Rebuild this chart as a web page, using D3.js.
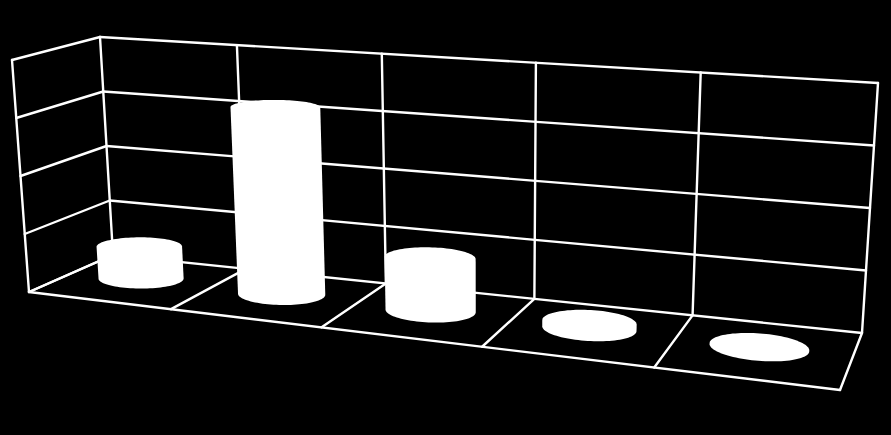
<!DOCTYPE HTML>
<html>
<head>
    <title>3D cylinder chart</title>
    <script src="https://d3js.org/d3.v7.min.js"></script>
    <style>
        html, body { margin: 0; padding: 0; background: #000; }
        svg { display: block; }
    </style>
</head>
<body>
<svg id="chart"></svg>
<script>
    const categories = ["1", "2", "3", "4", "5"];
    const values = [14, 80, 22, 2.5, 0.3];
    const yTicks = [0, 25, 50, 75, 100];

    const WIDTH = 891;
    const HEIGHT = 435;

    // corners of the 3D box on screen: [front left, front right, back right, back left]
    const FLOOR = [[29, 292], [840, 390], [862, 333], [113, 255]];
    const ROOF = [[12, 60], [858, 119], [878, 83], [100, 37]];
    // pure perspective is a bit too strong here, so ease it towards a flat quad
    const FLATTEN = 0.35;

    // unit square -> quad, u runs left to right, v runs front to back
    function homography(q) {
        const [[x0, y0], [x1, y1], [x2, y2], [x3, y3]] = q;
        const dx1 = x1 - x2, dx2 = x3 - x2, sx = x0 - x1 + x2 - x3;
        const dy1 = y1 - y2, dy2 = y3 - y2, sy = y0 - y1 + y2 - y3;
        const det = dx1 * dy2 - dx2 * dy1;
        const g = (sx * dy2 - dx2 * sy) / det;
        const h = (dx1 * sy - sx * dy1) / det;
        const a = x1 - x0 + g * x1, b = x3 - x0 + h * x3;
        const d = y1 - y0 + g * y1, e = y3 - y0 + h * y3;
        return (u, v) => {
            const w = g * u + h * v + 1;
            const flat = i => q[0][i] * (1 - u) * (1 - v) + q[1][i] * u * (1 - v) + q[2][i] * u * v + q[3][i] * (1 - u) * v;
            const px = (a * u + b * v + x0) / w;
            const py = (d * u + e * v + y0) / w;
            return [px + (flat(0) - px) * FLATTEN, py + (flat(1) - py) * FLATTEN];
        };
    }

    const floorAt = homography(FLOOR);
    const roofAt = homography(ROOF);

    const xScale = d3.scaleBand().domain(categories).range([0, 1]);
    const yScale = d3.scaleLinear().domain([0, 100]).range([0, 1]);

    function project(u, v, h) {
        const a = floorAt(u, v);
        const b = roofAt(u, v);
        return [a[0] + (b[0] - a[0]) * h, a[1] + (b[1] - a[1]) * h];
    }

    const svg = d3.select("#chart")
        .attr("width", WIDTH)
        .attr("height", HEIGHT)
        .style("background", "#000");

    const line = d3.line();

    function drawLine(from, to) {
        grid.append("path")
            .attr("d", line([from, to]))
            .attr("fill", "none")
            .attr("stroke", "#fff")
            .attr("stroke-width", 2.4)
            .attr("stroke-linecap", "round");
    }

    const grid = svg.append("g");

    // gridlines on the left and back walls
    yTicks.forEach(t => {
        const h = yScale(t);
        drawLine(project(0, 0, h), project(0, 1, h));
        drawLine(project(0, 1, h), project(1, 1, h));
    });

    // category dividers on the floor and back wall
    const edges = categories.map(c => xScale(c)).concat(1);
    edges.forEach(u => {
        drawLine(project(u, 1, 0), project(u, 1, 1));
        drawLine(project(u, 0, 0), project(u, 1, 0));
    });

    drawLine(project(0, 0, 0), project(0, 0, 1));
    drawLine(project(0, 0, 0), project(1, 0, 0));

    // cylinders: silhouette is the hull of the projected bottom and top circles
    const RADIUS_U = 0.28;
    const RADIUS_V = 0.235;
    const CENTER_U = 0.48;
    const CENTER_V = 0.55;
    const angles = d3.range(0, 2 * Math.PI, Math.PI / 48);

    function cylinderOutline(cat, value) {
        const cu = xScale(cat) + xScale.bandwidth() * CENTER_U;
        const ru = xScale.bandwidth() * RADIUS_U;
        const h = yScale(value);
        const pts = [];
        angles.forEach(a => {
            const u = cu + ru * Math.cos(a);
            const v = CENTER_V + RADIUS_V * Math.sin(a);
            pts.push(project(u, v, 0));
            pts.push(project(u, v, h));
        });
        return d3.polygonHull(pts);
    }

    svg.append("g")
        .selectAll("path")
        .data(categories)
        .join("path")
        .attr("d", (c, i) => line(cylinderOutline(c, values[i])) + "Z")
        .attr("fill", "#fff");
</script>
</body>
</html>
